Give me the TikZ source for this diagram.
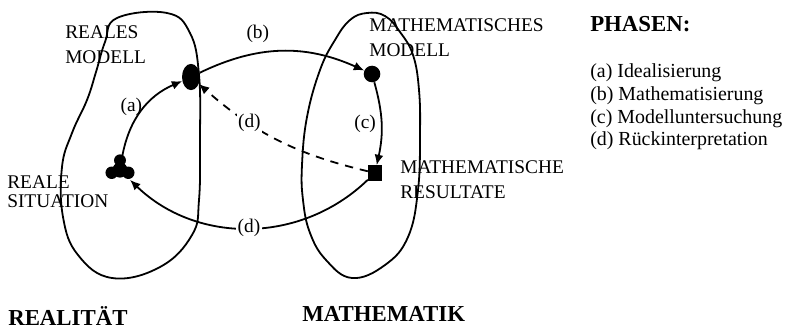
\documentclass[tikz,border=0pt]{standalone}
\usepackage{fontspec}
\setmainfont{Liberation Serif}
\usetikzlibrary{arrows.meta,shapes.geometric}
\newcommand{\lblfont}{\fontsize{14}{18}\selectfont}
\tikzset{
    area/.style={line width=1.3pt},
    spot/.style={fill=black, draw=none, inner sep=0pt},
    flow/.style={-{Latex[length=7.5pt,width=6.5pt]}, line width=1.3pt},
    backflow/.style={flow, dash pattern=on 6pt off 5pt},
    tag/.style={anchor=north west, inner sep=0pt, align=left},
    heading/.style={anchor=base west, inner sep=0pt,
                    font=\fontsize{16.5}{20}\selectfont\bfseries},
}

\begin{document}
\begin{tikzpicture}[x=0.0254cm, y=-0.0254cm, font=\lblfont]
    \path[use as bounding box] (0,0) rectangle (787,329);

    % the two areas
    \draw[area] plot[smooth cycle, tension=0.7] coordinates {(117,18) (167,13)
        (190,33) (199,75) (200,140) (199,200) (192,235) (160,267) (112,278)
        (78,255) (63,217) (62,167) (72,133) (87,100) (96,72) (105,42)};
    \draw[area] plot[smooth cycle, tension=0.7] coordinates {(367,13) (385,16)
        (400,32) (413,55) (419,90) (420,135) (418,190) (408,237) (385,265)
        (352,278) (326,260) (310,233) (303,200) (302,165) (307,117) (320,70)
        (335,40) (350,20)};

    \node[spot, ellipse, minimum width=13pt, minimum height=19pt]
        (realmod) at (191,77) {};
    \node[spot, circle, minimum size=12pt] (mathmod) at (372,74) {};
    \node[spot, minimum width=10pt, minimum height=11pt] (mathres) at (375,173) {};
    \node[circle, minimum size=20pt, inner sep=0pt] (realsit) at (120,170) {};
    \fill (realsit.center) circle (5.5pt);
    \fill ([yshift=7pt]realsit.center) circle (4.3pt);
    \fill ([shift={(-6pt,-2pt)}]realsit.center) circle (4.5pt);
    \fill ([shift={(6pt,-2pt)}]realsit.center) circle (4.5pt);

    \draw[flow] (realsit) to[bend left=28] node[pos=0.55, left=-2pt] {(a)} (realmod);
    \draw[flow] (realmod) to[bend left=25] node[pos=0.35, above=4pt] {(b)} (mathmod);
    \draw[flow] (mathmod) to[bend left=14] node[left=0pt] {(c)} (mathres);
    \draw[backflow] (mathres) to[bend left=14]
        node[pos=0.68, fill=white, inner sep=1pt] {(d)} (realmod);
    \draw[flow] (mathres) to[bend left=44]
        node[fill=white, inner sep=1pt] {(d)} (realsit);

    \node[tag] (realmodtxt) at (65,25) {REALES\\MODELL};
    \node[tag] (mathmodtxt) at (369,18) {MATHEMATISCHES\\MODELL};
    \node[tag] (mathrestxt) at (400,160) {MATHEMATISCHE\\RESULTATE};
    \node[tag, font=\fontsize{14}{14}\selectfont] (realsittxt) at (7,175)
        {REALE\\SITUATION};

    \node[heading] (phasen) at (590,32) {PHASEN:};
    \node[tag, font=\fontsize{14.4}{16.6}\selectfont] (phaselist) at (590,63)
        {(a) Idealisierung\\(b) Mathematisierung\\(c) Modelluntersuchung\\(d) Rückinterpretation};

    \node[heading] (realitaet) at (8,325) {REALITÄT};
    \node[heading] (mathematik) at (302,321) {MATHEMATIK};
\end{tikzpicture}
\end{document}
